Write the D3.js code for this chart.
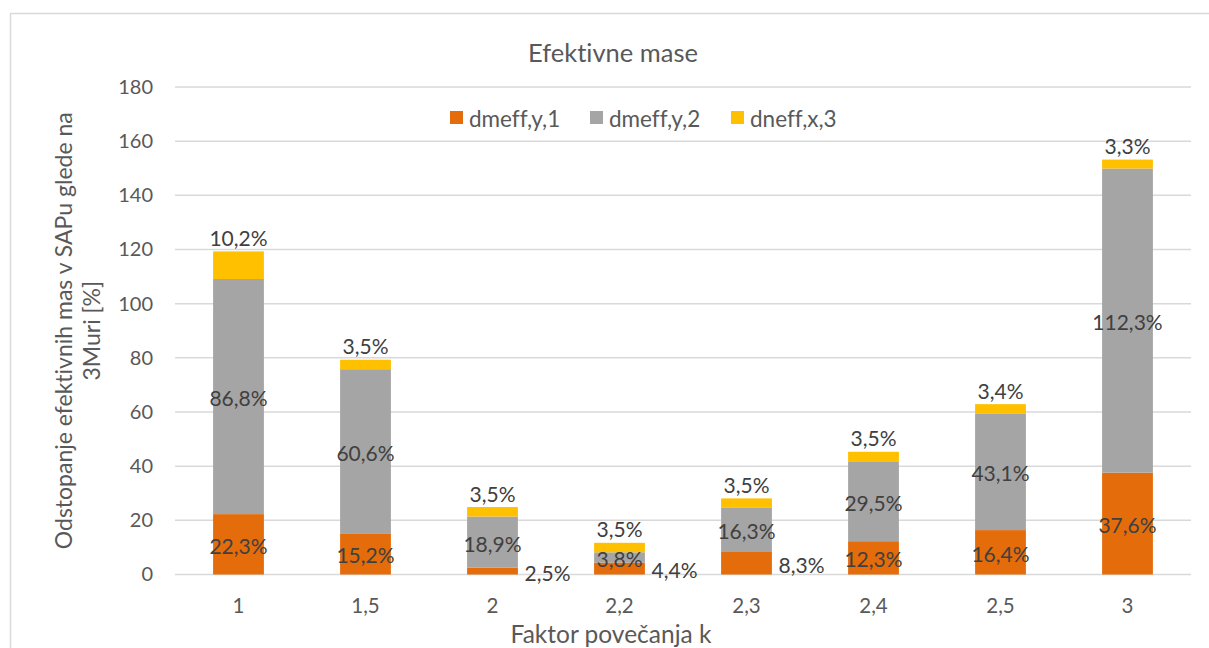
<!DOCTYPE html>
<html lang="sl">
<head>
<meta charset="UTF-8">
<title>Efektivne mase</title>
<script src="https://d3js.org/d3.v7.min.js"></script>
<style>
  body { margin: 0; background: #fff; }
  svg text { font-family: Lato, "Open Sans", sans-serif; font-variant-ligatures: none; }
</style>
</head>
<body>
<div id="chart"></div>
<script>
// data
var categories = ["1", "1,5", "2", "2,2", "2,3", "2,4", "2,5", "3"];
var seriesNames = ["dmeff,y,1", "dmeff,y,2", "dneff,x,3"];
var dmeffY1 = [22.3, 15.2, 2.5, 4.4, 8.3, 12.3, 16.4, 37.6];
var dmeffY2 = [86.8, 60.6, 18.9, 3.8, 16.3, 29.5, 43.1, 112.3];
var dneffX3 = [10.2, 3.5, 3.5, 3.5, 3.5, 3.5, 3.4, 3.3];
var yTicks = [0, 20, 40, 60, 80, 100, 120, 140, 160, 180];
var colors = ["#E46C0A", "#A5A5A5", "#FFC000"];

var W = 1209, H = 648;
var margin = {top: 87, right: 18, bottom: 74, left: 175};
var width = 1191 - margin.left, height = 574.5 - margin.top;

var svg = d3.select("#chart").append("svg")
    .attr("width", W).attr("height", H);

// chart area border
svg.append("rect")
    .attr("x", 10.5).attr("y", 13.5)
    .attr("width", 1300).attr("height", 700)
    .attr("fill", "none").attr("stroke", "#D9D9D9").attr("stroke-width", 1.5);

var g = svg.append("g")
    .attr("transform", "translate(" + margin.left + "," + margin.top + ")");

var x = d3.scaleBand()
    .domain(categories)
    .range([0, width])
    .paddingInner(0.6)
    .paddingOuter(0.3);

var y = d3.scaleLinear()
    .domain([0, 180])
    .range([height, 0]);

// gridlines
g.append("g")
    .selectAll("line")
    .data(yTicks)
    .enter().append("line")
      .attr("x1", 0).attr("x2", width)
      .attr("y1", function(d) { return y(d); })
      .attr("y2", function(d) { return y(d); })
      .attr("stroke", "#D9D9D9").attr("stroke-width", 1.5);

// y axis
var yAxis = g.append("g")
    .call(d3.axisLeft(y).tickValues(yTicks).tickSize(0).tickPadding(22));
yAxis.select(".domain").remove();
yAxis.selectAll("text")
    .style("font-size", "20px").style("fill", "#595959")
    .style("font-family", "Lato, sans-serif");

// x axis
var xAxis = g.append("g")
    .attr("transform", "translate(0," + height + ")")
    .call(d3.axisBottom(x).tickSize(0).tickPadding(24));
xAxis.select(".domain").remove();
xAxis.selectAll("text")
    .style("font-size", "20.5px").style("fill", "#595959")
    .style("font-family", "Lato, sans-serif");

// stack
var rows = categories.map(function(c, i) {
  return {cat: c, s0: dmeffY1[i], s1: dmeffY2[i], s2: dneffX3[i]};
});
var stack = d3.stack().keys(["s0", "s1", "s2"]);
var layers = stack(rows);

g.selectAll(".layer")
    .data(layers)
    .enter().append("g")
      .attr("class", "layer")
      .attr("fill", function(d, i) { return colors[i]; })
    .selectAll("rect")
    .data(function(d) { return d; })
    .enter().append("rect")
      .attr("x", function(d) { return x(d.data.cat); })
      .attr("y", function(d) { return y(d[1]); })
      .attr("width", x.bandwidth())
      .attr("height", function(d) { return y(d[0]) - y(d[1]); });

// data labels
function fmt(v) { return String(v.toFixed(1)).replace(".", ",") + "%"; }
// small orange values were moved to the right of their bar
var shiftRight = ["2", "2,2", "2,3"];

layers.forEach(function(layer, li) {
  g.append("g")
    .selectAll("text")
    .data(layer)
    .enter().append("text")
      .attr("text-anchor", "middle")
      .attr("dominant-baseline", "central")
      .style("font-size", "21px")
      .style("fill", "#404040")
      .attr("x", function(d) {
        var cx = x(d.data.cat) + x.bandwidth() / 2;
        if (li === 0 && shiftRight.indexOf(d.data.cat) >= 0) cx += 55;
        return cx;
      })
      .attr("y", function(d) {
        if (li === 2) return y(d[1]) - 14;
        return y((d[0] + d[1]) / 2) + 1;
      })
      .text(function(d) { return fmt(d[1] - d[0]); });
});

// title
svg.append("text")
    .attr("x", 613).attr("y", 52)
    .attr("text-anchor", "middle").attr("dominant-baseline", "central")
    .style("font-size", "25.5px").style("fill", "#595959")
    .text("Efektivne mase");

// legend
var legendX = [450, 590, 731];
var legend = svg.append("g");
seriesNames.forEach(function(name, i) {
  legend.append("rect")
      .attr("x", legendX[i]).attr("y", 111)
      .attr("width", 13).attr("height", 13)
      .attr("fill", colors[i]);
  legend.append("text")
      .attr("x", legendX[i] + 19).attr("y", 118)
      .attr("dominant-baseline", "central")
      .style("font-size", "22.5px").style("fill", "#595959")
      .text(name);
});

// axis titles
svg.append("text")
    .attr("transform", "translate(63," + (87 + height / 2) + ") rotate(-90)")
    .attr("text-anchor", "middle").attr("dominant-baseline", "central")
    .style("font-size", "23px").style("fill", "#595959")
    .text("Odstopanje efektivnih mas v SAPu glede na");
svg.append("text")
    .attr("transform", "translate(91," + (87 + height / 2) + ") rotate(-90)")
    .attr("text-anchor", "middle").attr("dominant-baseline", "central")
    .style("font-size", "23px").style("fill", "#595959")
    .text("3Muri [%]");

svg.append("text")
    .attr("x", 611).attr("y", 633)
    .attr("text-anchor", "middle").attr("dominant-baseline", "central")
    .style("font-size", "24.5px").style("fill", "#595959")
    .text("Faktor povečanja k");
</script>
</body>
</html>
